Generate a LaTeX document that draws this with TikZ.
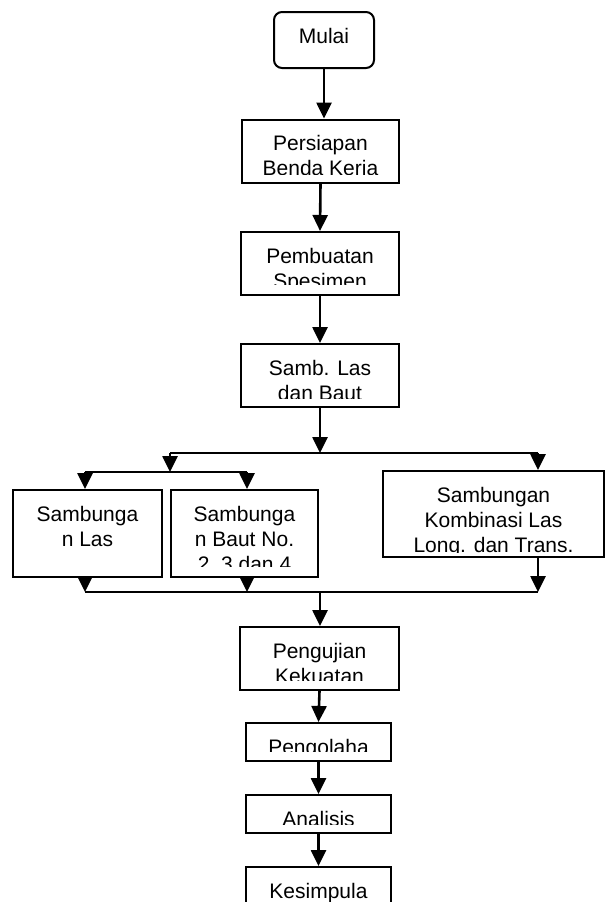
\documentclass[tikz,border=0pt]{standalone}
\usepackage{fontspec}
\setmainfont{Liberation Sans}
\usetikzlibrary{arrows.meta,calc}

\tikzset{
	kotak/.style={draw, line width=2pt, inner sep=0pt},
	teks/.style={align=center, inner sep=0pt, font=\fontsize{21}{25}\selectfont},
	panah/.style={line width=2.6pt, -{Triangle[length=16pt,width=15pt]}},
	garis/.style={line width=2.6pt}
}
% text in a box, cut off above the lower edge
\newcommand{\isi}[3][10pt]{%
	\begin{scope}
		\clip ([xshift=1pt,yshift=-1pt]#2.north west) rectangle ([yshift=#1]#2.south east);
		\node[teks, anchor=north] (#2-isi) at ([yshift=-17pt]#2.north) {#3};
	\end{scope}}

\begin{document}
\begin{tikzpicture}[x=1pt, y=-1pt]
	\path[use as bounding box, clip] (0,0) rectangle (606,902);
	
	% main column
	\node[kotak, rounded corners=8pt, minimum width=100pt, minimum height=56pt] (mulai) at (324,40) {};
	\isi{mulai}{Mulai}
	\node[kotak, minimum width=157pt, minimum height=63pt] (persiapan) at (320.5,151) {};
	\isi[9pt]{persiapan}{Persiapan\\Benda Kerja}
	\node[kotak, minimum width=158pt, minimum height=63pt] (pembuatan) at (320,263.5) {};
	\isi[12pt]{pembuatan}{Pembuatan\\Spesimen}
	\node[kotak, minimum width=158pt, minimum height=63pt] (samb) at (320,375.5) {};
	\isi{samb}{Samb. Las\\dan Baut}
	
	% three kinds of joint
	\node[kotak, minimum width=149pt, minimum height=87pt] (las) at (87.5,533.5) {};
	\isi{las}{Sambunga\\n Las}
	\node[kotak, minimum width=147pt, minimum height=87pt] (baut) at (244.5,533.5) {};
	\isi[12pt]{baut}{Sambunga\\n Baut No.\\2, 3 dan 4}
	\node[kotak, minimum width=221pt, minimum height=86pt] (kombinasi) at (493.5,514) {};
	\isi[6pt]{kombinasi}{Sambungan\\Kombinasi Las\\Long. dan Trans.}
	
	\node[kotak, minimum width=159pt, minimum height=63pt] (pengujian) at (319.5,658.5) {};
	\isi[11pt]{pengujian}{Pengujian\\Kekuatan}
	\node[kotak, minimum width=145pt, minimum height=38pt] (pengolahan) at (318.5,742) {};
	\isi[11pt]{pengolahan}{Pengolaha}
	\node[kotak, minimum width=145pt, minimum height=38pt] (analisis) at (318.5,814) {};
	\isi{analisis}{Analisis}
	\node[kotak, minimum width=145pt, minimum height=62pt] (kesimpulan) at (318.5,898) {};
	\isi{kesimpulan}{Kesimpula}
	
	% branch points
	\coordinate (bagi) at (320,453);
	\coordinate (bagiKiri) at (170,453);
	\coordinate (bagiKanan) at (538,453);
	\coordinate (cabang) at (170,472);
	\coordinate (cabangKiri) at (85,472);
	\coordinate (cabangKanan) at (247,472);
	\coordinate (gabung) at (320,592);
	
	\draw[panah] (mulai) -- (mulai |- persiapan.north);
	\draw[panah] (persiapan.south) -- (pembuatan.north);
	\draw[panah] (pembuatan.south) -- (samb.north);
	\draw[panah] (samb.south) -- (bagi);
	
	\draw[garis] (bagiKiri) -- (bagiKanan);
	\draw[panah] (bagiKanan) -- (bagiKanan |- kombinasi.north);
	\draw[panah] (bagiKiri) -- (cabang);
	\draw[garis] (cabangKiri) -- (cabangKanan);
	\draw[panah] (cabangKiri) -- (cabangKiri |- las.north);
	\draw[panah] (cabangKanan) -- (cabangKanan |- baut.north);
	
	\draw[panah] (cabangKiri |- las.south) -- (cabangKiri |- gabung);
	\draw[panah] (cabangKanan |- baut.south) -- (cabangKanan |- gabung);
	\draw[panah] (bagiKanan |- kombinasi.south) -- (bagiKanan |- gabung);
	\draw[garis] (cabangKiri |- gabung) -- (bagiKanan |- gabung);
	
	\draw[panah] (gabung) -- (gabung |- pengujian.north);
	\draw[panah] (pengujian.south) -- (pengolahan.north);
	\draw[panah] (pengolahan.south) -- (analisis.north);
	\draw[panah] (analisis.south) -- (kesimpulan.north);
\end{tikzpicture}
\end{document}
